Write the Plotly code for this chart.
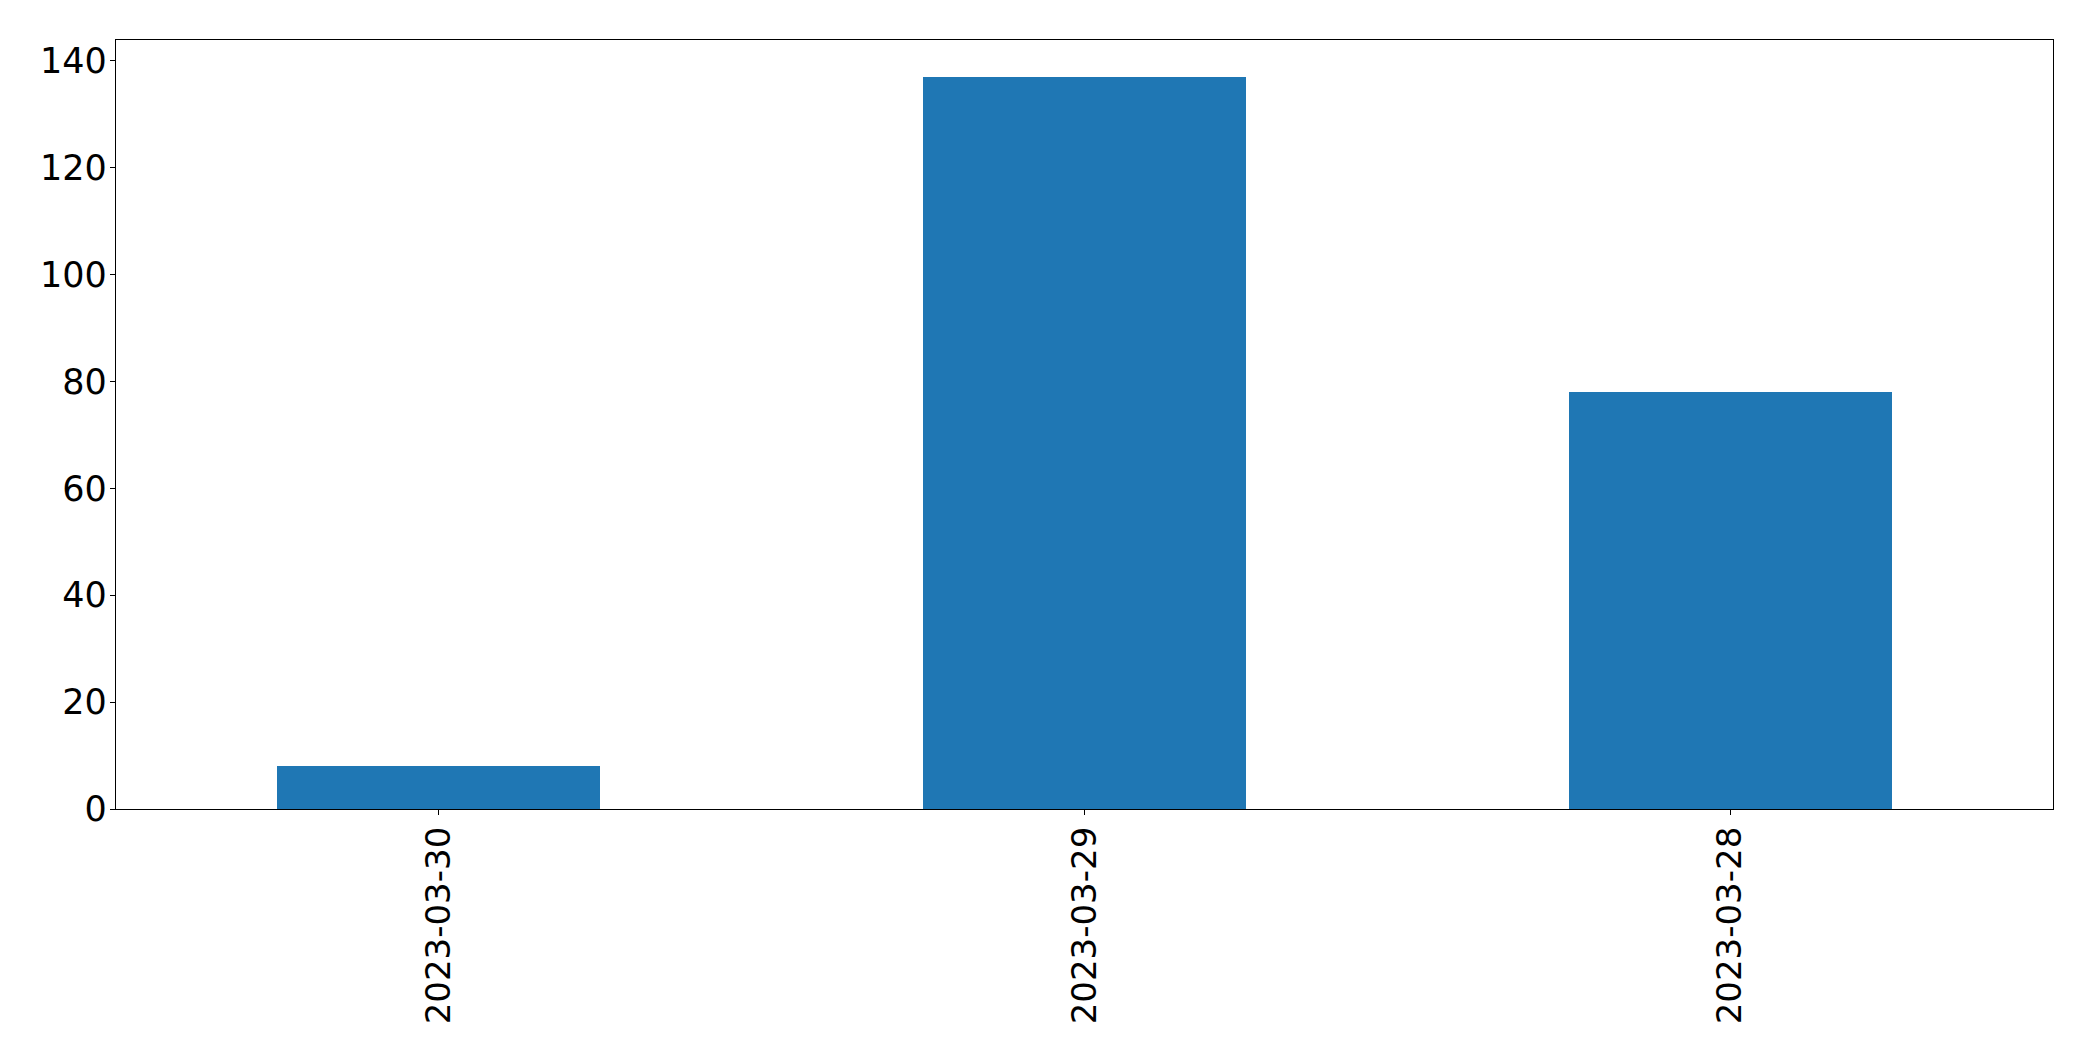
import plotly.graph_objects as go

categories = ["2023-03-30", "2023-03-29", "2023-03-28"]
values = [8, 137, 78]
y_ticks = [0, 20, 40, 60, 80, 100, 120, 140]

fig = go.Figure()
fig.add_trace(go.Bar(
    x=list(range(len(categories))), y=values, width=0.5,
    marker=dict(color="#1f77b4", line=dict(width=0)),
))

axis_common = dict(
    showline=True, linecolor="black", linewidth=1.3, mirror=True,
    ticks="outside", ticklen=5, tickwidth=1.3, tickcolor="black",
    showgrid=False, zeroline=False,
)

fig.update_layout(
    width=2093, height=1061,
    margin=dict(l=108, r=48, t=32, b=260),
    paper_bgcolor="white", plot_bgcolor="white",
    showlegend=False, bargap=0,
    xaxis=dict(
        range=[-0.5, 2.5],
        tickmode="array", tickvals=list(range(len(categories))), ticktext=categories,
        tickangle=-90, ticklabelstandoff=-2,
        tickfont=dict(family="DejaVu Sans", size=34, color="black"),
        **axis_common,
    ),
    yaxis=dict(
        range=[0, max(values) * 1.05],
        tickmode="array", tickvals=y_ticks, ticktext=[str(t) for t in y_ticks],
        ticklabelstandoff=-4,
        tickfont=dict(family="DejaVu Sans", size=35, color="black"),
        **axis_common,
    ),
)

fig.write_html("out.html")
